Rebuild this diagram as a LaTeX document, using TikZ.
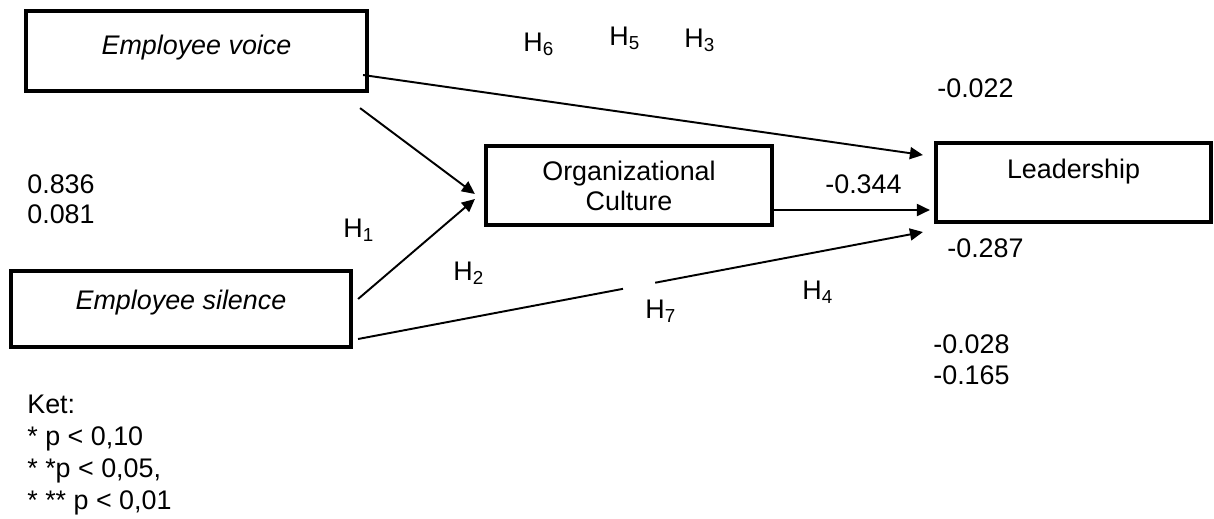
\documentclass[tikz,border=0pt]{standalone}
\usepackage{fontspec}
\setmainfont{Liberation Sans}
\usetikzlibrary{arrows.meta}
\usetikzlibrary{calc}

\begin{document}
\begin{tikzpicture}[x=0.02cm,y=-0.02cm,
    font=\fontsize{15.3}{18.2}\selectfont,
    varbox/.style={draw,line width=2.4pt,inner sep=0pt},
    path/.style={line width=1.1pt,-{Triangle[length=0.26cm,width=0.24cm]}},
    coef/.style={inner sep=0pt,anchor=base west}]
    \useasboundingbox (0,0) rectangle (1214,518);
    % variables
    \node[varbox,minimum width=6.82cm,minimum height=1.6cm,
      text height=0.4cm,text depth=0.28cm] (voice) at (196.5,51)
      {\itshape Employee voice};
    \node[varbox,minimum width=6.8cm,minimum height=1.52cm,
      text height=0.4cm,text depth=0.4cm] (silence) at (181,309)
      {\itshape Employee silence};
    \node[varbox,minimum width=5.72cm,minimum height=1.58cm,align=center,
      font=\fontsize{15.3}{17.1}\selectfont] (culture) at (629,185.5)
      {Organizational\\Culture};
    \node[varbox,minimum width=5.5cm,minimum height=1.58cm,
      text height=0.4cm,text depth=0.58cm] (lead) at (1073.5,182.5)
      {Leadership};
    %
    \draw[path] ($(voice.east)+(-6,24)$) -- ($(lead.west)+(-11,-27.5)$);
    \draw[path] ($(voice.south east)+(-9,15)$) -- ($(culture.west)+(-9,8.5)$);
    \draw[path] ($(silence.east)+(5,-10)$) -- ($(culture.west)+(-9,13.5)$);
    \draw[path] ($(culture.east)+(0,24.5)$) -- ($(lead.west)+(-4,27.5)$);
    \coordinate (s7) at ($(silence.east)+(5,30)$);
    \coordinate (t7) at ($(lead.west)+(-11,49.5)$);
    \draw[path] (s7) -- ($(s7)!0.469!(t7)$) ($(s7)!0.526!(t7)$) -- (t7);
    %
    \node[coef] (h6) at (523,51) {H\textsubscript{6}};
    \node[coef] (h5) at (609,45) {H\textsubscript{5}};
    \node[coef] (h3) at (684,47) {H\textsubscript{3}};
    \node[coef] (h1) at (343,237) {H\textsubscript{1}};
    \node[coef] (h2) at (453,280) {H\textsubscript{2}};
    \node[coef] (h7) at (645,318) {H\textsubscript{7}};
    \node[coef] (h4) at (802,299) {H\textsubscript{4}};
    \node[coef] (c1) at (27,193) {0.836};
    \node[coef] (c2) at (27,223) {0.081};
    \node[coef] (c3) at (937,97) {-0.022};
    \node[coef] (c4) at (825,193) {-0.344};
    \node[coef] (c5) at (947,257) {-0.287};
    \node[coef] (c6) at (933,353) {-0.028};
    \node[coef] (c7) at (933,384) {-0.165};
    \node[inner sep=0pt,anchor=north west,align=left] (ket) at (27,394.7)
      {Ket:\\* p < 0,10\\* *p < 0,05,\\* ** p < 0,01};
\end{tikzpicture}
\end{document}
